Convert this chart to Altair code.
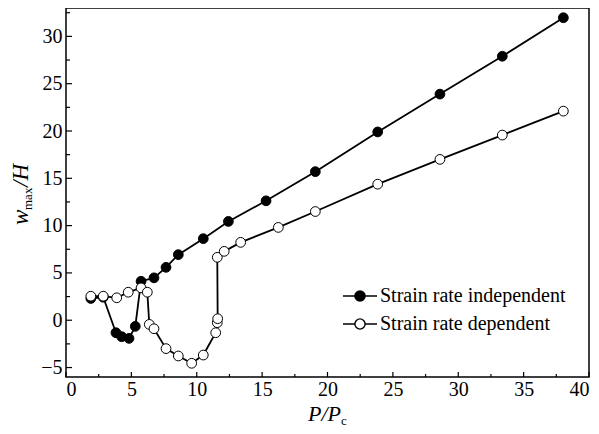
import altair as alt
import pandas as pd

# --- data ---
series_names = ["Strain rate independent", "Strain rate dependent"]

x_indep = [1.9, 2.85, 3.82, 4.26, 4.82, 5.3, 5.74, 6.73, 7.65, 8.59, 10.5,
           12.42, 15.3, 19.07, 23.84, 28.6, 33.37, 38.04]
y_indep = [2.3, 2.43, -1.32, -1.74, -1.92, -0.65, 4.12, 4.48, 5.59, 6.93, 8.62,
           10.44, 12.62, 15.7, 19.9, 23.9, 27.9, 31.97]

x_dep = [1.9, 2.85, 3.88, 4.76, 5.74, 6.22, 6.37, 6.73, 7.65, 8.59, 9.61, 10.5,
         11.45, 11.57, 11.6, 11.57, 12.1, 13.36, 16.24, 19.07, 23.84, 28.6, 33.37, 38.04]
y_dep = [2.54, 2.54, 2.37, 2.96, 3.42, 2.96, -0.44, -0.9, -3.0, -3.78, -4.55, -3.68,
         -1.32, -0.26, 0.16, 6.65, 7.28, 8.23, 9.81, 11.49, 14.38, 17.0, 19.57, 22.1]

x_ticks_major = [0, 5, 10, 15, 20, 25, 30, 35, 40]
x_ticks_minor = [2.5, 7.5, 12.5, 17.5, 22.5, 27.5, 32.5, 37.5]
y_ticks_major = [-5, 0, 5, 10, 15, 20, 25, 30]
y_ticks_minor = [-2.5, 2.5, 7.5, 12.5, 17.5, 22.5, 27.5, 32.5]

rows = []
for i, (x, y) in enumerate(zip(x_indep, y_indep)):
    rows.append({"series": series_names[0], "x": x, "y": y, "i": i, "z": 0})
for i, (x, y) in enumerate(zip(x_dep, y_dep)):
    rows.append({"series": series_names[1], "x": x, "y": y, "i": i, "z": 1})
df = pd.DataFrame(rows)

W, H = 523, 369
FONT = "Liberation Serif"

xs = alt.Scale(domain=[0, 40], nice=False, zero=False)
ys = alt.Scale(domain=[-6, 33], nice=False, zero=False)

xaxis = alt.Axis(values=x_ticks_major, ticks=False, domain=False, grid=False,
                 labelFont=FONT, labelFontSize=20, labelColor="black",
                 labelPadding=2, title=None)
yaxis = alt.Axis(values=y_ticks_major, ticks=False, domain=False, grid=False,
                 labelFont=FONT, labelFontSize=20, labelColor="black",
                 labelPadding=4, title=None)

base = alt.Chart(df)

lines = base.mark_line(color="black", strokeWidth=1.8).encode(
    x=alt.X("x:Q", scale=xs, axis=xaxis),
    y=alt.Y("y:Q", scale=ys, axis=yaxis),
    detail="series:N",
    order="i:Q",
)

legend_path = ("M-1,0L-0.3,0M0.3,0L1,0"
               "M-0.3,0A0.3,0.3,0,1,1,0.3,0A0.3,0.3,0,1,1,-0.3,0Z")

points_indep = alt.Chart(df[df.z == 0]).mark_point(
    shape="circle", filled=True, opacity=1, size=95, stroke="black", strokeWidth=1
).encode(
    x=alt.X("x:Q", scale=xs),
    y=alt.Y("y:Q", scale=ys),
    fill=alt.Fill("series:N",
                  scale=alt.Scale(domain=series_names, range=["black", "white"]),
                  legend=alt.Legend(title=None, orient="none", legendX=276, legendY=270,
                                    symbolType=legend_path, symbolSize=1156,
                                    symbolStrokeColor="black", symbolStrokeWidth=1.4,
                                    symbolOpacity=1, labelFont=FONT, labelFontSize=20,
                                    labelColor="black", labelOffset=2, rowPadding=-4,
                                    padding=0, labelLimit=400)),
)
points_dep = alt.Chart(df[df.z == 1]).mark_point(
    shape="circle", filled=True, opacity=1, size=95, stroke="black", strokeWidth=1
).encode(
    x=alt.X("x:Q", scale=xs),
    y=alt.Y("y:Q", scale=ys),
    fill=alt.Fill("series:N",
                  scale=alt.Scale(domain=series_names, range=["black", "white"])),
)

def xtick(vals, length):
    return alt.Chart(pd.DataFrame({"v": vals})).mark_rule(color="black", strokeWidth=1.2).encode(
        x=alt.X("v:Q", scale=xs), y=alt.value(H), y2=alt.value(H - length))

def ytick(vals, length):
    return alt.Chart(pd.DataFrame({"v": vals})).mark_rule(color="black", strokeWidth=1.2).encode(
        y=alt.Y("v:Q", scale=ys), x=alt.value(0), x2=alt.value(length))

# axis titles built from pieces (italic with subscripts)
def txt(s, x, y, size=22, style="italic", angle=0):
    return alt.Chart(pd.DataFrame({"t": [s]})).mark_text(
        font=FONT, fontSize=size, fontStyle=style, align="left", baseline="alphabetic",
        angle=angle, color="black"
    ).encode(text="t:N", x=alt.value(x), y=alt.value(y))

ytitle = (txt("w", -38, 217, size=23, angle=270)
          + txt("max", -34, 202, size=13, style="normal", angle=270)
          + txt("/H", -38, 179, size=23, angle=270))
xtitle = (txt("P/P", 242, 413)
          + txt("c", 275, 417, size=13, style="normal"))

chart = alt.layer(
    lines, points_indep, points_dep,
    xtick(x_ticks_major, 5), xtick(x_ticks_minor, 3),
    ytick(y_ticks_major, 6), ytick(y_ticks_minor, 4),
    ytitle, xtitle,
).properties(
    width=W, height=H,
    autosize=alt.AutoSizeParams(type="none"),
    padding={"left": 58, "top": 0, "right": 2, "bottom": 52},
).configure_view(stroke="black", strokeWidth=1.5)

chart.save("out.html", embed_options={"renderer": "svg", "actions": False})
